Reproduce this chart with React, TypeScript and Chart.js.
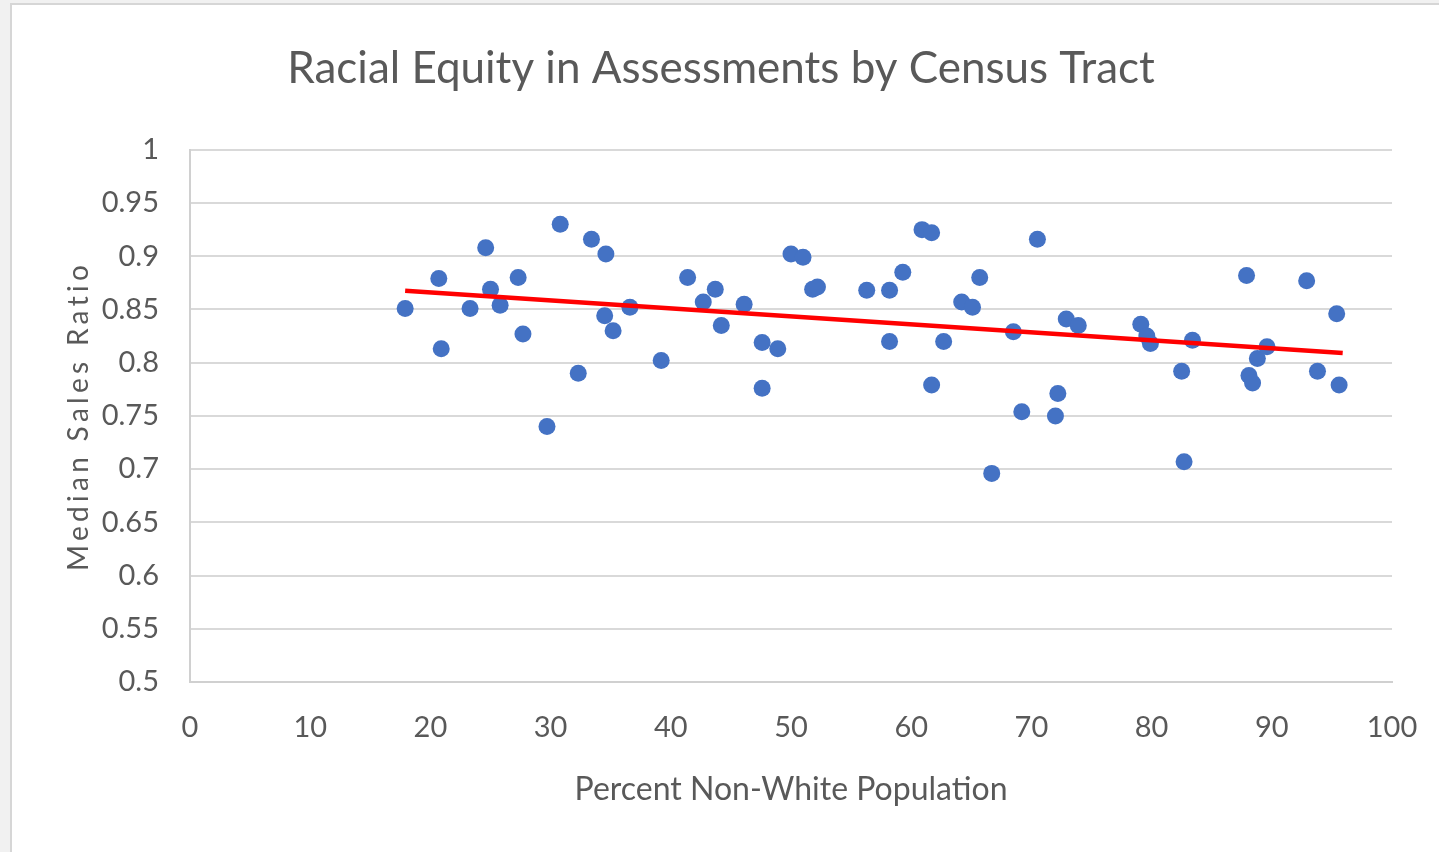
import React, { useEffect, useRef } from "react";
import { Chart, registerables } from "chart.js";

Chart.register(...registerables);

const xValues = [
  17.9, 20.7, 20.9, 23.3, 24.6, 25.0, 25.8, 27.3, 27.7, 29.7, 30.8, 32.3, 33.4, 34.5, 34.6, 35.2,
  36.6, 39.2, 41.4, 42.7, 43.7, 44.2, 46.1, 47.6, 47.6, 48.9, 50.0, 51.0, 51.8, 52.2, 56.3, 58.2,
  58.2, 59.3, 60.9, 61.7, 61.7, 62.7, 64.2, 65.1, 65.7, 66.7, 68.5, 69.2, 70.5, 72.0, 72.2, 72.9,
  73.9, 79.1, 79.6, 79.9, 82.5, 82.7, 83.4, 87.9, 88.1, 88.4, 88.8, 89.6, 92.9, 93.8, 95.4, 95.6,
];
const yValues = [
  0.851, 0.879, 0.813, 0.851, 0.908, 0.869, 0.854, 0.88, 0.827, 0.74, 0.93, 0.79, 0.916, 0.844, 0.902, 0.83,
  0.852, 0.802, 0.88, 0.857, 0.869, 0.835, 0.855, 0.819, 0.776, 0.813, 0.902, 0.899, 0.869, 0.871, 0.868, 0.868,
  0.82, 0.885, 0.925, 0.922, 0.779, 0.82, 0.857, 0.852, 0.88, 0.696, 0.829, 0.754, 0.916, 0.75, 0.771, 0.841,
  0.835, 0.836, 0.825, 0.818, 0.792, 0.707, 0.821, 0.882, 0.788, 0.781, 0.804, 0.815, 0.877, 0.792, 0.846, 0.779,
];
const trendX = [17.9, 95.9];
const trendY = [0.8675, 0.809];

const titleText = "Racial Equity in Assessments by Census Tract";
const xAxisTitle = "Percent Non-White Population";
const yAxisTitle = "Median Sales Ratio";

const FONT = "Lato, 'Open Sans', sans-serif";
const GRAY = "#595959";

export default function App() {
  const ref = useRef<HTMLCanvasElement>(null);
  useEffect(() => {
    const canvas = ref.current;
    if (!canvas) return;
    const chart = new Chart(canvas, {
      type: "scatter",
      data: {
        datasets: [
          {
            type: "line",
            label: "Trend",
            data: trendX.map((x, i) => ({ x, y: trendY[i] })),
            borderColor: "#FF0000",
            borderWidth: 4.5,
            pointRadius: 0,
            fill: false,
            order: 0,
          },
          {
            label: "Median Sales Ratio",
            data: xValues.map((x, i) => ({ x, y: yValues[i] })),
            backgroundColor: "#4472C4",
            borderWidth: 0,
            pointRadius: 8.5,
            order: 1,
          },
        ],
      },
      options: {
        animation: false,
        responsive: false,
        layout: { padding: { left: 50, right: 47, top: 0, bottom: 0 } },
        plugins: {
          legend: { display: false },
          tooltip: { enabled: false },
          title: {
            display: true,
            text: titleText,
            color: GRAY,
            font: { family: FONT, size: 44, weight: "normal" },
            padding: { top: 42, bottom: 55 },
          },
        },
        scales: {
          x: {
            type: "linear",
            min: 0,
            max: 100,
            ticks: { stepSize: 10, color: GRAY, font: { family: FONT, size: 29 }, padding: 28 },
            grid: { display: false, drawTicks: false },
            border: { display: true, color: "#d0d0d0", width: 2 },
            title: {
              display: true,
              text: xAxisTitle,
              color: GRAY,
              font: { family: FONT, size: 32 },
              padding: { top: 0, bottom: 43 },
            },
            afterFit: (s: any) => {
              s.height = 852 - 682;
              s.paddingLeft = 0;
              s.paddingRight = 0;
            },
          },
          y: {
            type: "linear",
            min: 0.5,
            max: 1,
            ticks: {
              stepSize: 0.05,
              color: GRAY,
              font: { family: FONT, size: 29 },
              padding: 31,
              callback: (v: any) => String(+Number(v).toFixed(2)),
            },
            grid: { color: "#d9d9d9", lineWidth: 2, drawTicks: false },
            border: { display: true, color: "#d0d0d0", width: 2 },
            title: {
              display: true,
              text: yAxisTitle,
              color: GRAY,
              font: { family: FONT, size: 28 },
              padding: { top: 12, bottom: 0 },
            },
            afterFit: (s: any) => {
              s.width = 190 - 50;
              if (!s.__wrapped) {
                const orig = s.drawTitle.bind(s);
                s.drawTitle = (...args: any[]) => {
                  const ctx: any = s.ctx;
                  const prev = ctx.letterSpacing;
                  ctx.letterSpacing = "4.3px";
                  orig(...args);
                  ctx.letterSpacing = prev || "0px";
                };
                s.__wrapped = true;
              }
            },
          },
        },
      },
    });
    return () => chart.destroy();
  }, []);

  return (
    <div style={{ position: "fixed", left: 0, top: 0, width: 1439, height: 852, background: "#f1f1f1", overflow: "hidden" }}>
      <div
        style={{
          position: "absolute",
          left: 10,
          top: 3,
          width: 1439,
          height: 852,
          background: "#ffffff",
          border: "2px solid #d6d6d6",
          boxSizing: "border-box",
        }}
      />
      <canvas ref={ref} width={1439} height={852} style={{ position: "absolute", left: 0, top: 0, width: 1439, height: 852 }} />
    </div>
  );
}
